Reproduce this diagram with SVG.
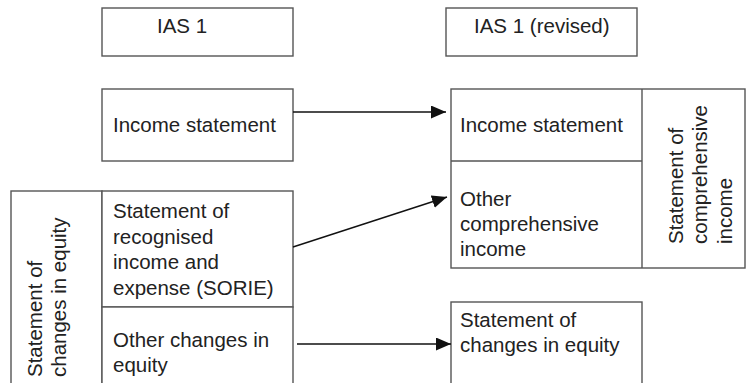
<svg xmlns="http://www.w3.org/2000/svg" width="746" height="383" viewBox="0 0 746 383">
<style>
.box{fill:#fff;stroke:#555;stroke-width:1.4}
.div{stroke:#555;stroke-width:1.4;fill:none}
.t{font-family:"Liberation Sans",Arial,sans-serif;font-size:20.5px;fill:#222}
.c{stroke:#111;stroke-width:1.4;fill:none}
</style>
<defs>
<marker id="ah" markerUnits="userSpaceOnUse" markerWidth="16" markerHeight="14" refX="15" refY="6.5" orient="auto">
<path d="M0,0 L15,6.5 L0,13 Z" fill="#111"/>
</marker>
</defs>
<rect width="746" height="383" fill="#fff"/>
<g id="ias1">
<rect class="box" x="102" y="8" width="191" height="48"/>
<text class="t" x="157" y="33">IAS 1</text>
</g>
<g id="ias1rev">
<rect class="box" x="446" y="8" width="191" height="48"/>
<text class="t" x="474" y="33">IAS 1 (revised)</text>
</g>
<g id="income-left">
<rect class="box" x="102" y="89" width="191" height="72"/>
<text class="t" x="113" y="132">Income statement</text>
</g>
<g id="soce-left">
<rect class="box" x="11" y="191" width="91" height="200"/>
<text class="t" transform="translate(42,377) rotate(-90)">Statement of</text>
<text class="t" transform="translate(66,377) rotate(-90)">changes in equity</text>
</g>
<g id="sorie">
<rect class="box" x="102" y="191" width="191" height="116"/>
<text class="t" x="113" y="218">Statement of</text>
<text class="t" x="113" y="243.5">recognised</text>
<text class="t" x="113" y="269">income and</text>
<text class="t" x="113" y="294.5">expense (SORIE)</text>
</g>
<g id="other-changes">
<rect class="box" x="102" y="307" width="191" height="84"/>
<text class="t" x="113" y="347">Other changes in</text>
<text class="t" x="113" y="372">equity</text>
</g>
<g id="soci">
<rect class="box" x="451" y="89" width="294" height="179"/>
<line class="div" x1="642" y1="89" x2="642" y2="268"/>
<text class="t" transform="translate(683,244) rotate(-90)">Statement of</text>
<text class="t" transform="translate(707,244) rotate(-90)">comprehensive</text>
<text class="t" transform="translate(732,244) rotate(-90)">income</text>
</g>
<g id="income-right">
<line class="div" x1="451" y1="161" x2="642" y2="161"/>
<text class="t" x="460" y="132">Income statement</text>
</g>
<g id="oci">
<text class="t" x="460" y="206">Other</text>
<text class="t" x="460" y="231">comprehensive</text>
<text class="t" x="460" y="256">income</text>
</g>
<g id="soce-right">
<rect class="box" x="451" y="302" width="191" height="89"/>
<text class="t" x="460" y="327">Statement of</text>
<text class="t" x="460" y="352">changes in equity</text>
</g>
<g id="connectors">
<line class="c" x1="293" y1="112" x2="446" y2="112" marker-end="url(#ah)"/>
<line class="c" x1="293" y1="247" x2="447" y2="197" marker-end="url(#ah)"/>
<line class="c" x1="297" y1="344" x2="451" y2="344" marker-end="url(#ah)"/>
</g>
</svg>
